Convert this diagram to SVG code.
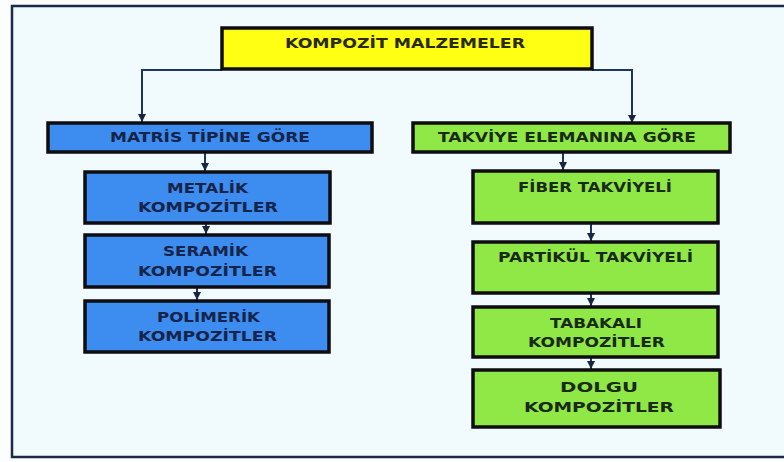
<svg xmlns="http://www.w3.org/2000/svg" width="784" height="462" viewBox="0 0 784 462">
<defs>
<marker id="ah" viewBox="0 0 10 10" refX="10" refY="5" markerWidth="8" markerHeight="8" markerUnits="userSpaceOnUse" orient="auto">
<path d="M0,0 L10,5 L0,10 z" fill="#1a2540"/>
</marker>
<style>
.frame{fill:#F1FBFE;stroke:#1c2a4a;stroke-width:2.5}
.box{stroke:#0d0d12;stroke-width:3.5}
.y{fill:#FFFF14}
.b{fill:#3D8CEF}
.g{fill:#8FE846}
text{font-family:"DejaVu Sans","Open Sans",sans-serif;font-weight:700;font-size:14px;text-anchor:middle}
.tb{fill:#16244a}
.tg{fill:#1a2a18}
.ty{fill:#2a2a10}
.c{fill:none;stroke:#1F3560;stroke-width:2}
</style>
</defs>
<rect x="0" y="0" width="784" height="462" fill="#FCFDFE"/>
<rect class="frame" x="12" y="6" width="790" height="451"/>

<g id="connectors">
<path class="c" d="M222,70 H142 V122" marker-end="url(#ah)"/>
<path class="c" d="M592,70 H632 V123" marker-end="url(#ah)"/>
<path class="c" d="M205,152 V171" marker-end="url(#ah)"/>
<path class="c" d="M206,223 V234" marker-end="url(#ah)"/>
<path class="c" d="M197,287 V300" marker-end="url(#ah)"/>
<path class="c" d="M563,152 V170" marker-end="url(#ah)"/>
<path class="c" d="M591,223 V241" marker-end="url(#ah)"/>
<path class="c" d="M591,293 V306" marker-end="url(#ah)"/>
<path class="c" d="M591,357 V369" marker-end="url(#ah)"/>
</g>

<g id="root">
<rect class="box y" x="222" y="28" width="370" height="41"/>
<text class="ty" x="405" y="48" textLength="240" lengthAdjust="spacingAndGlyphs">KOMPOZİT MALZEMELER</text>
</g>

<g id="matris">
<rect class="box b" x="48" y="123" width="324" height="29"/>
<text class="tb" x="210" y="142" textLength="200" lengthAdjust="spacingAndGlyphs">MATRİS TİPİNE GÖRE</text>
</g>

<g id="takviye">
<rect class="box g" x="413" y="123" width="317" height="29"/>
<text class="tg" x="567" y="142" textLength="258" lengthAdjust="spacingAndGlyphs">TAKVİYE ELEMANINA GÖRE</text>
</g>

<g id="metalik">
<rect class="box b" x="85" y="172" width="245" height="51"/>
<text class="tb" x="207.5" y="193" textLength="81" lengthAdjust="spacingAndGlyphs">METALİK</text>
<text class="tb" x="208" y="212" textLength="140" lengthAdjust="spacingAndGlyphs">KOMPOZİTLER</text>
</g>

<g id="seramik">
<rect class="box b" x="85" y="235" width="244" height="52"/>
<text class="tb" x="205.5" y="256" textLength="85" lengthAdjust="spacingAndGlyphs">SERAMİK</text>
<text class="tb" x="207.5" y="276" textLength="139" lengthAdjust="spacingAndGlyphs">KOMPOZİTLER</text>
</g>

<g id="polimerik">
<rect class="box b" x="85" y="301" width="244" height="51"/>
<text class="tb" x="208.5" y="322" textLength="103" lengthAdjust="spacingAndGlyphs">POLİMERİK</text>
<text class="tb" x="207.5" y="341" textLength="139" lengthAdjust="spacingAndGlyphs">KOMPOZİTLER</text>
</g>

<g id="fiber">
<rect class="box g" x="473" y="171" width="245" height="52"/>
<text class="tg" x="595" y="192" textLength="154" lengthAdjust="spacingAndGlyphs">FİBER TAKVİYELİ</text>
</g>

<g id="partikul">
<rect class="box g" x="473" y="242" width="245" height="51"/>
<text class="tg" x="595.5" y="262" textLength="195" lengthAdjust="spacingAndGlyphs">PARTİKÜL TAKVİYELİ</text>
</g>

<g id="tabakali">
<rect class="box g" x="473" y="307" width="245" height="50"/>
<text class="tg" x="596" y="328" textLength="92" lengthAdjust="spacingAndGlyphs">TABAKALI</text>
<text class="tg" x="596.5" y="347" textLength="137" lengthAdjust="spacingAndGlyphs">KOMPOZİTLER</text>
</g>

<g id="dolgu">
<rect class="box g" x="473" y="370" width="247" height="57"/>
<text class="tg" x="599" y="392" textLength="78" lengthAdjust="spacingAndGlyphs">DOLGU</text>
<text class="tg" x="599" y="412" textLength="150" lengthAdjust="spacingAndGlyphs">KOMPOZİTLER</text>
</g>
</svg>
